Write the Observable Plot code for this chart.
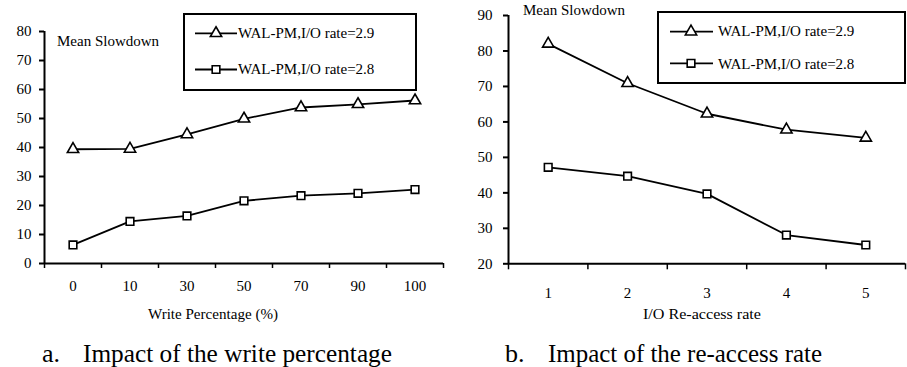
<!DOCTYPE html>
<html><head><meta charset="utf-8">
<script src="https://cdn.jsdelivr.net/npm/d3@7"></script>
<script src="https://cdn.jsdelivr.net/npm/@observablehq/plot@0.6"></script>
<style>
body{margin:0;background:#fff;}
#wrap{position:relative;width:907px;height:367px;overflow:hidden;background:#fff;}
#wrap svg{position:absolute;}
#wrap svg, #wrap svg text{font-family:'Liberation Serif','Times New Roman',Times,serif !important;}
</style></head><body><div id="wrap"></div>
<script>
// ---- data ----
const writePct = ["0","10","30","50","70","90","100"];
const wal29A = [39.4, 39.5, 44.5, 49.9, 53.8, 54.9, 56.2];
const wal28A = [6.4, 14.5, 16.4, 21.6, 23.4, 24.2, 25.5];
const reaccess = ["1","2","3","4","5"];
const wal29B = [82.0, 70.9, 62.3, 57.8, 55.5];
const wal28B = [47.2, 44.7, 39.7, 28.1, 25.3];
const seriesNames = ["WAL-PM,I/O rate=2.9", "WAL-PM,I/O rate=2.8"];
const yTicksA = [0,10,20,30,40,50,60,70,80];
const yTicksB = [20,30,40,50,60,70,80,90];
const yLabel = "Mean Slowdown";
const xTitleA = "Write Percentage (%)";
const xTitleB = "I/O Re-access rate";
const capA = ["a.", "Impact of the write percentage"];
const capB = ["b.", "Impact of the re-access rate"];

const FONT = "'Liberation Serif','Times New Roman',Times,serif";
const TRI_R = 4.2, SQ_R = 4.3;

function chart(o) {
  const n = o.cats.length;
  const rows = [];
  o.cats.forEach((c, i) => {
    rows.push({i: i + 0.5, v: o.s29[i], s: seriesNames[0]});
    rows.push({i: i + 0.5, v: o.s28[i], s: seriesNames[1]});
  });
  return Plot.plot({
    width: o.width, height: o.height,
    marginTop: o.mt, marginBottom: o.mb, marginLeft: o.ml, marginRight: o.mr,
    style: {fontFamily: FONT, fontSize: "15px", color: "#000", background: "transparent", overflow: "visible"},
    x: {type: "linear", domain: [0, n]},
    y: {domain: o.yDomain},
    marks: [
      Plot.axisY({ticks: o.yTicks, tickSize: o.ySize, tickPadding: o.yPad, label: null, strokeWidth: 2, fontSize: 15}),
      Plot.axisX({ticks: d3.range(n + 1), tickFormat: () => "", tickSize: o.xSize, label: null, strokeWidth: 1.5}),
      Plot.axisX({ticks: d3.range(n).map(i => i + 0.5), tickFormat: d => o.cats[Math.floor(d)], tickSize: 0, tickPadding: o.xPad, label: null, fontSize: 15}),
      Plot.ruleX([0], {stroke: "#000", strokeWidth: 2}),
      Plot.ruleY([o.yDomain[0]], {stroke: "#000", strokeWidth: 2}),
      Plot.line(rows, {x: "i", y: "v", z: "s", stroke: "#000", strokeWidth: 1.8}),
      Plot.dot(rows, {filter: d => d.s === seriesNames[0], x: "i", y: "v", symbol: "triangle", r: TRI_R, fill: "#fff", stroke: "#000", strokeWidth: 1.6}),
      Plot.dot(rows, {filter: d => d.s === seriesNames[1], x: "i", y: "v", symbol: "square", r: SQ_R, fill: "#fff", stroke: "#000", strokeWidth: 1.6})
    ]
  });
}

const wrap = document.getElementById("wrap");
const left = chart({cats: writePct, s29: wal29A, s28: wal28A, yDomain: [0, 80], yTicks: yTicksA,
  width: 453, height: 300, mt: 31, mb: 37, ml: 44, mr: 10, ySize: 5, yPad: 8, xSize: 5, xPad: 16.5});
left.style.left = "0px"; left.style.top = "0px";
wrap.appendChild(left);
const right = chart({cats: reaccess, s29: wal29B, s28: wal28B, yDomain: [20, 90], yTicks: yTicksB,
  width: 454, height: 300, mt: 15, mb: 36.7, ml: 55, mr: 2, ySize: 5, yPad: 11, xSize: 6, xPad: 23.5});
right.style.left = "453px"; right.style.top = "0px";
wrap.appendChild(right);

// ---- overlay: texts and legends ----
const ov = d3.select(wrap).append("svg").attr("width", 907).attr("height", 367)
  .style("left", "0px").style("top", "0px");

function txt(s, x, y, size, len) {
  const t = ov.append("text").attr("x", x).attr("y", y).attr("font-size", size)
    .attr("font-family", FONT).attr("fill", "#000").text(s);
  if (len) t.attr("textLength", len).attr("lengthAdjust", "spacingAndGlyphs");
  return t;
}
txt(yLabel, 57, 46, 15);
txt(yLabel, 523, 15, 15);
txt(xTitleA, 148, 318.5, 15.5, 130);
txt(xTitleB, 643, 318.5, 15.5, 118);
txt(capA[0], 42, 362, 26);
txt(capA[1], 83, 362, 26, 309);
txt(capB[0], 505, 362, 26);
txt(capB[1], 548, 362, 26, 274);

function legend(bx, by, bw, bh, lx0, lx1, mx, tx, rowsY, baseY) {
  ov.append("rect").attr("x", bx).attr("y", by).attr("width", bw).attr("height", bh)
    .attr("fill", "#fff").attr("stroke", "#000").attr("stroke-width", 2);
  const syms = [d3.symbol(d3.symbolTriangle, TRI_R * TRI_R * Math.PI)(), d3.symbol(d3.symbolSquare, SQ_R * SQ_R * Math.PI)()];
  seriesNames.forEach((nm, k) => {
    ov.append("line").attr("x1", lx0).attr("x2", lx1).attr("y1", rowsY[k]).attr("y2", rowsY[k])
      .attr("stroke", "#000").attr("stroke-width", 1.8);
    ov.append("path").attr("d", syms[k]).attr("transform", `translate(${mx},${rowsY[k]})`)
      .attr("fill", "#fff").attr("stroke", "#000").attr("stroke-width", 1.6);
    txt(nm, tx, baseY[k], 15);
  });
}
legend(184, 14, 232, 76, 195, 237, 216, 238, [33.3, 69.5], [38.3, 74]);
legend(658, 12, 247, 71, 670, 713, 691, 718, [31.7, 63.3], [36.3, 69]);
</script></body></html>
